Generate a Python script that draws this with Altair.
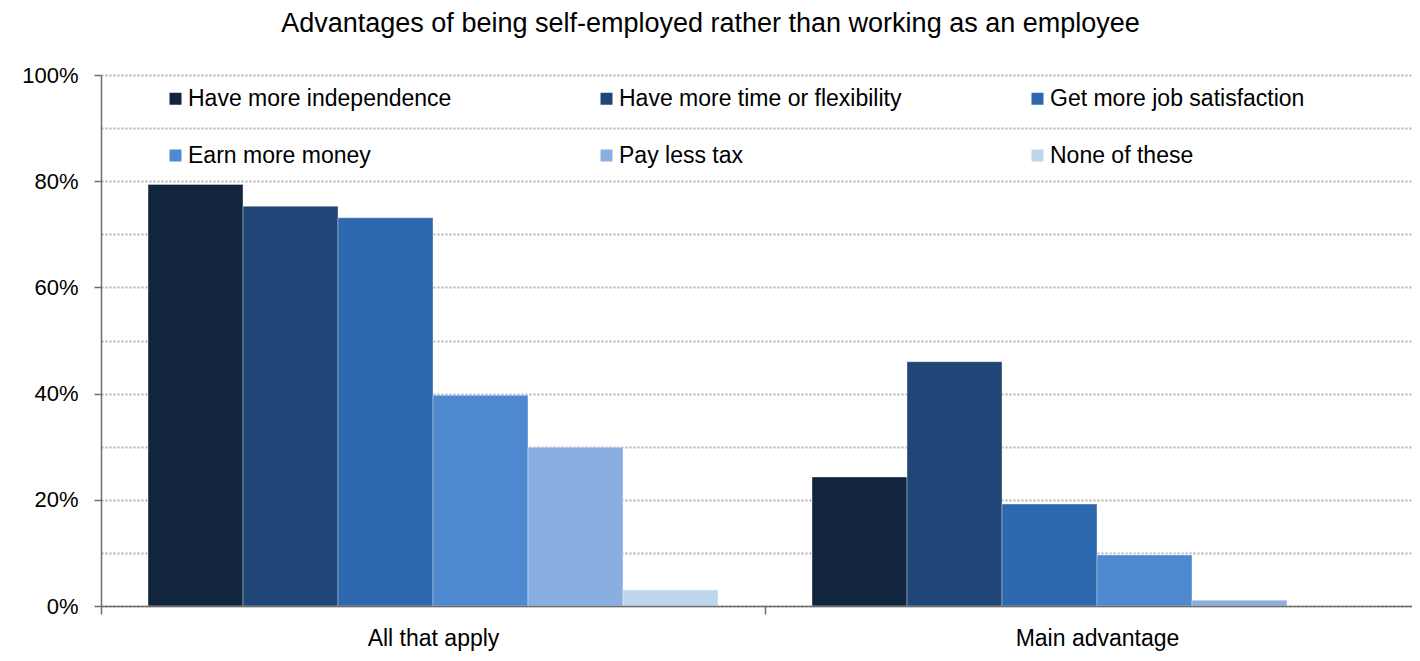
import altair as alt
import pandas as pd

title_text = "Advantages of being self-employed rather than working as an employee"
categories = ["All that apply", "Main advantage"]
series = [
    "Have more independence",
    "Have more time or flexibility",
    "Get more job satisfaction",
    "Earn more money",
    "Pay less tax",
    "None of these",
]
all_that_apply = [79.4, 75.3, 73.1, 39.7, 29.9, 3.0]
main_advantage = [24.3, 46.0, 19.2, 9.6, 1.1, 0.0]
colors = ["#12253f", "#1f4677", "#2d67ae", "#4f8ad1", "#89aee0", "#bdd6ee"]
y_ticks = [0.0, 0.1, 0.2, 0.3, 0.4, 0.5, 0.6, 0.7, 0.8, 0.9, 1.0]

rows = []
for cat, vals in zip(categories, [all_that_apply, main_advantage]):
    for s, v in zip(series, vals):
        rows.append({"category": cat, "series": s, "value": v / 100.0})
df = pd.DataFrame(rows)

FONT = "Arial"

chart = (
    alt.Chart(df)
    .mark_bar(stroke="#ffffff", strokeWidth=0.6, strokeOpacity=0.6)
    .encode(
        x=alt.X(
            "category:N",
            sort=categories,
            scale=alt.Scale(range=[0, 1328], paddingInner=0, paddingOuter=0),
            axis=alt.Axis(
                title=None,
                labelAngle=0,
                tickBand="extent",
                tickSize=8,
                tickColor="#6e6e6e",
                tickWidth=1.5,
                domainColor="#6e6e6e",
                domainWidth=1.5,
                labelFont=FONT,
                labelFontSize=23,
                labelColor="#000000",
                labelPadding=13,
                grid=False,
                zindex=1,
            ),
        ),
        xOffset=alt.XOffset(
            "series:N",
            sort=series,
            scale=alt.Scale(paddingInner=0, paddingOuter=0.495),
        ),
        y=alt.Y(
            "value:Q",
            scale=alt.Scale(domain=[0, 1], nice=False),
            axis=alt.Axis(
                title=None,
                values=y_ticks,
                format=".0%",
                labelExpr="round(datum.value*10) % 2 == 0 ? format(datum.value, '.0%') : ''",
                grid=True,
                gridDash=[2, 2],
                gridColor="#b4b4b4",
                gridWidth=2,
                tickSize=7,
                tickColor="#6e6e6e",
                tickWidth=1.5,
                tickOpacity={"condition": {"test": "round(datum.value*10) % 2 == 0", "value": 1}, "value": 0},
                domainColor="#6e6e6e",
                domainWidth=1.5,
                labelFont=FONT,
                labelFontSize=22,
                labelColor="#000000",
                labelPadding=16,
            ),
        ),
        color=alt.Color(
            "series:N",
            sort=series,
            scale=alt.Scale(domain=series, range=colors),
            legend=alt.Legend(
                title=None,
                orient="none",
                direction="horizontal",
                legendX=63,
                legendY=12,
                columns=3,
                columnPadding=124,
                rowPadding=33,
                gridAlign="all",
                padding=0,
                symbolType="square",
                symbolSize=144,
                symbolStrokeWidth=0,
                labelFont=FONT,
                labelFontSize=23,
                labelColor="#000000",
                labelOffset=1,
                labelLimit=500,
            ),
        ),
    )
    .properties(
        width=1311,
        height=531,
        title=alt.TitleParams(
            text=title_text,
            font=FONT,
            fontSize=27,
            fontWeight="normal",
            color="#000000",
            anchor="middle",
            dx=-46,
            offset=26,
        ),
        padding={"left": 93, "top": 67, "right": 0, "bottom": 47},
        autosize=alt.AutoSizeParams(type="none"),
    )
    .configure_view(stroke=None)
)

chart.save("out.html", embed_options={"renderer": "svg", "actions": False})
